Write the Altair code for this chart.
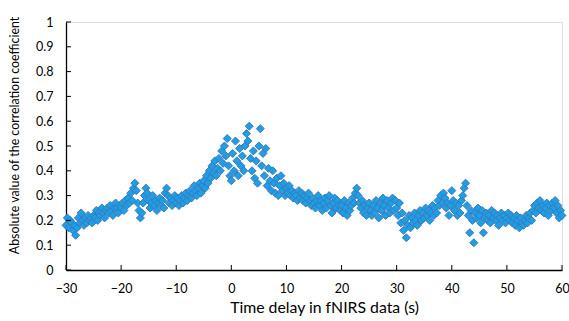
import altair as alt
import pandas as pd

# time delay grid start / step (s)
x_start = -30.0
x_step = 0.25

# absolute correlation values, one row per 5 s
r_m30 = [0.18,0.21,0.17,0.2,0.19,0.16,0.18,0.14,0.17,0.21,0.19,0.23,0.2,0.18,0.21,0.19,0.22,0.2,0.21,0.19]
r_m25 = [0.22,0.21,0.24,0.2,0.23,0.22,0.25,0.23,0.21,0.24,0.25,0.23,0.26,0.24,0.22,0.25,0.27,0.25,0.23,0.26]
r_m20 = [0.25,0.27,0.24,0.28,0.26,0.29,0.27,0.31,0.28,0.33,0.35,0.32,0.27,0.24,0.21,0.23,0.27,0.3,0.33,0.31]
r_m15 = [0.28,0.25,0.27,0.3,0.26,0.28,0.24,0.27,0.29,0.26,0.28,0.25,0.31,0.33,0.3,0.27,0.29,0.26,0.28,0.3]
r_m10 = [0.27,0.29,0.26,0.28,0.3,0.27,0.29,0.31,0.28,0.3,0.32,0.29,0.31,0.34,0.32,0.3,0.33,0.35,0.31,0.34]
r_m05 = [0.36,0.33,0.38,0.35,0.4,0.37,0.42,0.39,0.44,0.38,0.41,0.45,0.4,0.48,0.43,0.5,0.46,0.53,0.42,0.38]
r_p00 = [0.36,0.47,0.4,0.52,0.44,0.38,0.49,0.42,0.46,0.4,0.5,0.55,0.52,0.58,0.45,0.4,0.48,0.37,0.44,0.35]
r_p05 = [0.5,0.57,0.42,0.47,0.38,0.49,0.34,0.41,0.36,0.32,0.4,0.35,0.31,0.37,0.3,0.34,0.38,0.32,0.35,0.3]
r_p10 = [0.33,0.31,0.34,0.3,0.32,0.29,0.31,0.3,0.28,0.32,0.29,0.31,0.28,0.3,0.27,0.29,0.31,0.28,0.26,0.29]
r_p15 = [0.27,0.25,0.28,0.3,0.26,0.28,0.24,0.27,0.29,0.25,0.28,0.3,0.26,0.23,0.27,0.29,0.25,0.28,0.26,0.24]
r_p20 = [0.26,0.23,0.28,0.25,0.22,0.27,0.24,0.26,0.29,0.27,0.31,0.33,0.3,0.27,0.25,0.28,0.23,0.26,0.22,0.25]
r_p25 = [0.27,0.24,0.22,0.26,0.23,0.28,0.25,0.21,0.27,0.24,0.29,0.26,0.22,0.28,0.25,0.23,0.27,0.29,0.24,0.28]
r_p30 = [0.25,0.22,0.27,0.19,0.23,0.16,0.2,0.13,0.18,0.22,0.17,0.21,0.19,0.23,0.2,0.18,0.22,0.24,0.2,0.23]
r_p35 = [0.21,0.25,0.22,0.24,0.2,0.23,0.26,0.22,0.25,0.23,0.28,0.26,0.3,0.27,0.31,0.29,0.25,0.27,0.22,0.26]
r_p40 = [0.32,0.28,0.24,0.27,0.22,0.26,0.23,0.28,0.3,0.33,0.35,0.26,0.22,0.15,0.24,0.2,0.11,0.23,0.21,0.25]
r_p45 = [0.22,0.19,0.24,0.15,0.21,0.23,0.2,0.22,0.19,0.24,0.21,0.23,0.2,0.22,0.18,0.21,0.23,0.2,0.22,0.19]
r_p50 = [0.21,0.23,0.2,0.22,0.19,0.21,0.18,0.22,0.2,0.17,0.21,0.19,0.18,0.2,0.22,0.19,0.21,0.23,0.2,0.24]
r_p55 = [0.26,0.23,0.27,0.25,0.28,0.24,0.26,0.23,0.25,0.27,0.22,0.26,0.24,0.27,0.25,0.28,0.23,0.26,0.21,0.24]
r_p60 = [0.22]

x_ticks = [-30, -20, -10, 0, 10, 20, 30, 40, 50, 60]
y_ticks = [0, 0.1, 0.2, 0.3, 0.4, 0.5, 0.6, 0.7, 0.8, 0.9, 1]

values = (r_m30 + r_m25 + r_m20 + r_m15 + r_m10 + r_m05 + r_p00 + r_p05 + r_p10
          + r_p15 + r_p20 + r_p25 + r_p30 + r_p35 + r_p40 + r_p45 + r_p50 + r_p55 + r_p60)
df = pd.DataFrame({
    "t": [x_start + i * x_step for i in range(len(values))],
    "r": values,
})

FONT = "Lato"
W, H = 496, 248

xscale = alt.Scale(domain=[-30, 60], nice=False, zero=False)
yscale = alt.Scale(domain=[0, 1], nice=False)

x_axis = alt.Axis(
    values=x_ticks, title="Time delay in fNIRS data (s)", tickSize=0,
    domainColor="#000000", domainWidth=1.3, grid=False,
    labelOverlap=False, labelFlush=False,
    labelFont=FONT, labelFontSize=12.5, labelColor="#000000", labelPadding=12,
    titleFont=FONT, titleFontSize=15.8, titleFontWeight="normal",
    titleColor="#000000", titlePadding=6, titleX=258)
y_axis = alt.Axis(
    values=y_ticks, format=".1~f", title="Absolute value of the correlation coefficient",
    tickSize=0, domainColor="#000000", domainWidth=1.3, grid=False,
    labelOverlap=False, labelFlush=False, labelBound=False,
    labelFont=FONT, labelFontSize=12.5, labelColor="#000000", labelPadding=13,
    titleFont=FONT, titleFontSize=12.4, titleFontWeight="normal",
    titleColor="#000000", titlePadding=14, titleY=113)

points = alt.Chart(df).mark_point(
    shape="diamond", filled=True, size=64, fill="#1F9FE3",
    stroke="#3A78C0", strokeWidth=1, opacity=1
).encode(
    x=alt.X("t:Q", scale=xscale, axis=x_axis),
    y=alt.Y("r:Q", scale=yscale, axis=y_axis),
)

xt = alt.Chart(pd.DataFrame({"t": x_ticks})).mark_rule(color="#000000", strokeWidth=1).encode(
    x=alt.X("t:Q", scale=xscale, axis=x_axis), y=alt.value(H), y2=alt.value(H - 5))
yt = alt.Chart(pd.DataFrame({"r": y_ticks})).mark_rule(color="#000000", strokeWidth=1).encode(
    y=alt.Y("r:Q", scale=yscale, axis=y_axis), x=alt.value(0), x2=alt.value(5))

chart = alt.layer(points, xt, yt).properties(
    width=W, height=H,
    autosize=alt.AutoSizeParams(type="none"),
    padding={"left": 66, "top": 22, "right": 7, "bottom": 51},
).configure_view(stroke=None).configure(background="#ffffff")

chart.save("out.html", embed_options={"renderer": "svg", "actions": False})
